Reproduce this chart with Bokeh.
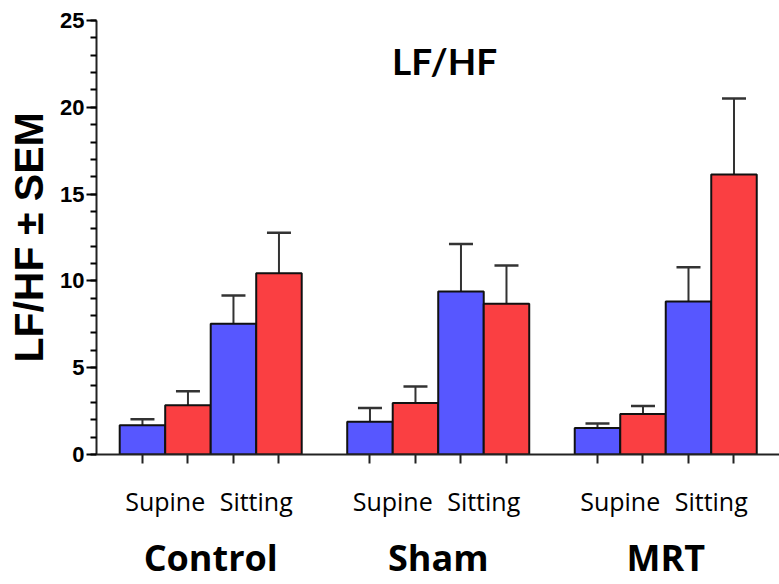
from bokeh.plotting import figure
from bokeh.models import (ColumnDataSource, FixedTicker, LinearAxis, Range1d,
                          Whisker, TeeHead, Label)
from bokeh.embed import file_html
from bokeh.resources import INLINE

# ---- data ----
groups = ["Control", "Sham", "MRT"]
postures = ["Supine", "Sitting"]
# order: Control-Supine, Control-Sitting, Sham-Supine, Sham-Sitting, MRT-Supine, MRT-Sitting
blue_mean = [1.68, 7.53, 1.88, 9.39, 1.53, 8.81]
blue_sem = [0.35, 1.63, 0.80, 2.74, 0.25, 1.98]
red_mean = [2.83, 10.44, 2.97, 8.68, 2.34, 16.13]
red_sem = [0.81, 2.34, 0.94, 2.20, 0.46, 4.37]
y_ticks = [0, 5, 10, 15, 20, 25]

BLUE = "#5757FF"
RED = "#FA3F42"

# positions: each group = 4 adjacent bars, one empty slot between groups
xs, tops, sems, cols = [], [], [], []
pair_mid, pair_lab, group_mid = [], [], []
k = 0
for gi, g in enumerate(groups):
    base = gi * 5
    for pi, ps in enumerate(postures):
        xb = base + pi * 2
        xs += [xb, xb + 1]
        tops += [blue_mean[k], red_mean[k]]
        sems += [blue_sem[k], red_sem[k]]
        cols += [BLUE, RED]
        pair_mid.append(xb + 0.5)
        pair_lab.append(ps)
        k += 1
    group_mid.append(base + 1.5)

upper = [t + s for t, s in zip(tops, sems)]
src = ColumnDataSource(dict(x=xs, top=tops, upper=upper, color=cols))

p = figure(width=779, height=584, output_backend="svg", toolbar_location=None,
           x_range=Range1d(-1.01, 14.0), y_range=Range1d(0, 25),
           min_border_left=96, min_border_right=0, min_border_top=20,
           min_border_bottom=129)
p.outline_line_color = None
p.grid.grid_line_color = None
p.background_fill_color = "white"

wh = Whisker(source=src, base="x", lower="top", upper="upper",
             line_color="#333333", line_width=2, lower_head=None,
             upper_head=TeeHead(size=24, line_color="#333333", line_width=2.5))
p.add_layout(wh)

p.vbar(x="x", top="top", width=1.0, bottom=0, source=src, fill_color="color",
       line_color="#111111", line_width=2)

# y axis
ya = p.yaxis[0]
ya.ticker = FixedTicker(ticks=y_ticks, minor_ticks=list(range(0, 26)))
ya.axis_line_width = 2
ya.axis_line_color = "#222222"
ya.major_tick_line_width = 2
ya.major_tick_out = 10
ya.major_tick_in = 0
ya.minor_tick_line_width = 2
ya.minor_tick_out = 6
ya.minor_tick_in = 0
ya.major_label_text_font = "Liberation Sans"
ya.major_label_text_font_style = "bold"
ya.major_label_text_font_size = "22px"
ya.major_label_text_color = "black"
ya.major_label_standoff = 2
ya.axis_label = "LF/HF ± SEM"
ya.axis_label_text_font = "Liberation Sans"
ya.axis_label_text_font_style = "bold"
ya.axis_label_text_font_size = "41px"
ya.axis_label_text_color = "black"
ya.axis_label_standoff = 5

# x axis: minor ticks at bar centers, posture labels at pair midpoints
xa = p.xaxis[0]
xa.ticker = FixedTicker(ticks=pair_mid, minor_ticks=xs)
xa.major_label_overrides = {m: l for m, l in zip(pair_mid, pair_lab)}
xa.axis_line_width = 2
xa.axis_line_color = "#222222"
xa.major_tick_line_color = None
xa.major_tick_out = 0
xa.major_tick_in = 0
xa.minor_tick_line_width = 2
xa.minor_tick_line_color = "#222222"
xa.minor_tick_out = 9
xa.minor_tick_in = 0
xa.major_label_standoff = 20
xa.major_label_text_font = "Open Sans"
xa.major_label_text_font_size = "25px"
xa.major_label_text_color = "black"

# group labels
xa3 = LinearAxis(ticker=FixedTicker(ticks=group_mid, minor_ticks=[]),
                 major_label_overrides={m: l for m, l in zip(group_mid, groups)})
xa3.axis_line_color = None
xa3.major_tick_line_color = None
xa3.minor_tick_line_color = None
xa3.major_tick_out = 0
xa3.major_tick_in = 0
xa3.major_label_standoff = 12
xa3.major_label_text_font = "Open Sans"
xa3.major_label_text_font_style = "bold"
xa3.major_label_text_font_size = "36px"
xa3.major_label_text_color = "black"
p.add_layout(xa3, "below")

title = Label(x=6.64, y=22.7, text="LF/HF", text_align="center",
              text_baseline="middle", text_font="Lato", text_font_style="bold",
              text_font_size="37px", text_color="black")
p.add_layout(title)

open("out.html", "w").write(file_html(p, INLINE))
